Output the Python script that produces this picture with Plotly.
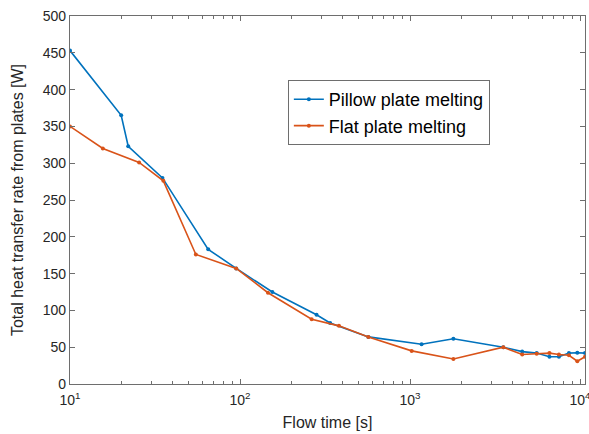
import plotly.graph_objects as go

# Data
pillow_t = [10, 20, 22, 35, 65, 95, 155, 282, 339, 569, 1170, 1800, 3540, 4570, 5560, 6610, 7520, 8610, 9640, 10700]
pillow_q = [453, 365, 323, 280, 183, 157, 125, 94, 83, 64, 54, 61.5, 50, 44, 42, 37, 37, 42, 42.5, 42]
flat_t = [10, 15.6, 25.5, 35.4, 55, 95, 146, 264, 382, 569, 1023, 1800, 3540, 4570, 5560, 6610, 7520, 8610, 9640, 10700]
flat_q = [350, 320, 301, 276, 176, 157, 124, 88, 79, 64, 45, 34, 50, 40, 41, 42, 40, 39, 31, 37]

x_tickvals = [10, 100, 1000, 10000]
x_ticktext = ["10<sup>1</sup>", "10<sup>2</sup>", "10<sup>3</sup>", "10<sup>4</sup>"]
x_minor = [m * 10 ** e for e in range(1, 5) for m in range(2, 10) if m * 10 ** e <= 10700]
y_tickvals = list(range(0, 501, 50))

FONT = "Liberation Sans, Arial, sans-serif"
AX = "#6e6e6e"
TXT = "#262626"

fig = go.Figure()
fig.add_trace(go.Scatter(x=pillow_t, y=pillow_q, mode="lines+markers", name="Pillow plate melting",
                         legendgroup="a",
                         line=dict(color="#0072BD", width=1.6),
                         marker=dict(symbol="circle", size=4, color="#0072BD")))
fig.add_trace(go.Scatter(x=flat_t, y=flat_q, mode="lines+markers", name="Flat plate melting",
                         legendgroup="b",
                         line=dict(color="#D95319", width=1.6),
                         marker=dict(symbol="circle", size=4, color="#D95319")))

axis_common = dict(showline=True, linecolor=AX, linewidth=1.2, mirror="ticks",
                   ticks="inside", tickcolor=AX, ticklen=5, showgrid=False, zeroline=False,
                   automargin=False, ticklabeloverflow="allow",
                   tickfont=dict(family=FONT, size=14, color=TXT))

fig.update_layout(
    width=589, height=434,
    margin=dict(l=70, r=4, t=16, b=50),
    paper_bgcolor="white", plot_bgcolor="white",
    font=dict(family=FONT, size=14, color=TXT),
    xaxis=dict(type="log", range=[1, 4.0294], tickmode="array", tickvals=x_tickvals, ticktext=x_ticktext,
               minor=dict(ticks="inside", ticklen=3, tickcolor=AX, tickmode="array", tickvals=x_minor),
               ticklabelstandoff=3,
               title=dict(text="Flow time [s]", font=dict(family=FONT, size=16, color=TXT), standoff=9),
               **axis_common),
    yaxis=dict(range=[0, 500], tickmode="array", tickvals=y_tickvals,
               title=dict(text="Total heat transfer rate from plates [W]",
                          font=dict(family=FONT, size=16, color=TXT), standoff=15),
               **axis_common),
    legend=dict(x=0.423, y=0.826, xanchor="left", yanchor="top",
                bgcolor="white", bordercolor=AX, borderwidth=1,
                font=dict(family=FONT, size=18, color="#000000"),
                itemwidth=30, tracegroupgap=0),
    showlegend=True,
)

fig.write_html("out.html", config={"displayModeBar": False},
               post_script="document.body.style.margin='0px';document.body.style.overflow='hidden';")
